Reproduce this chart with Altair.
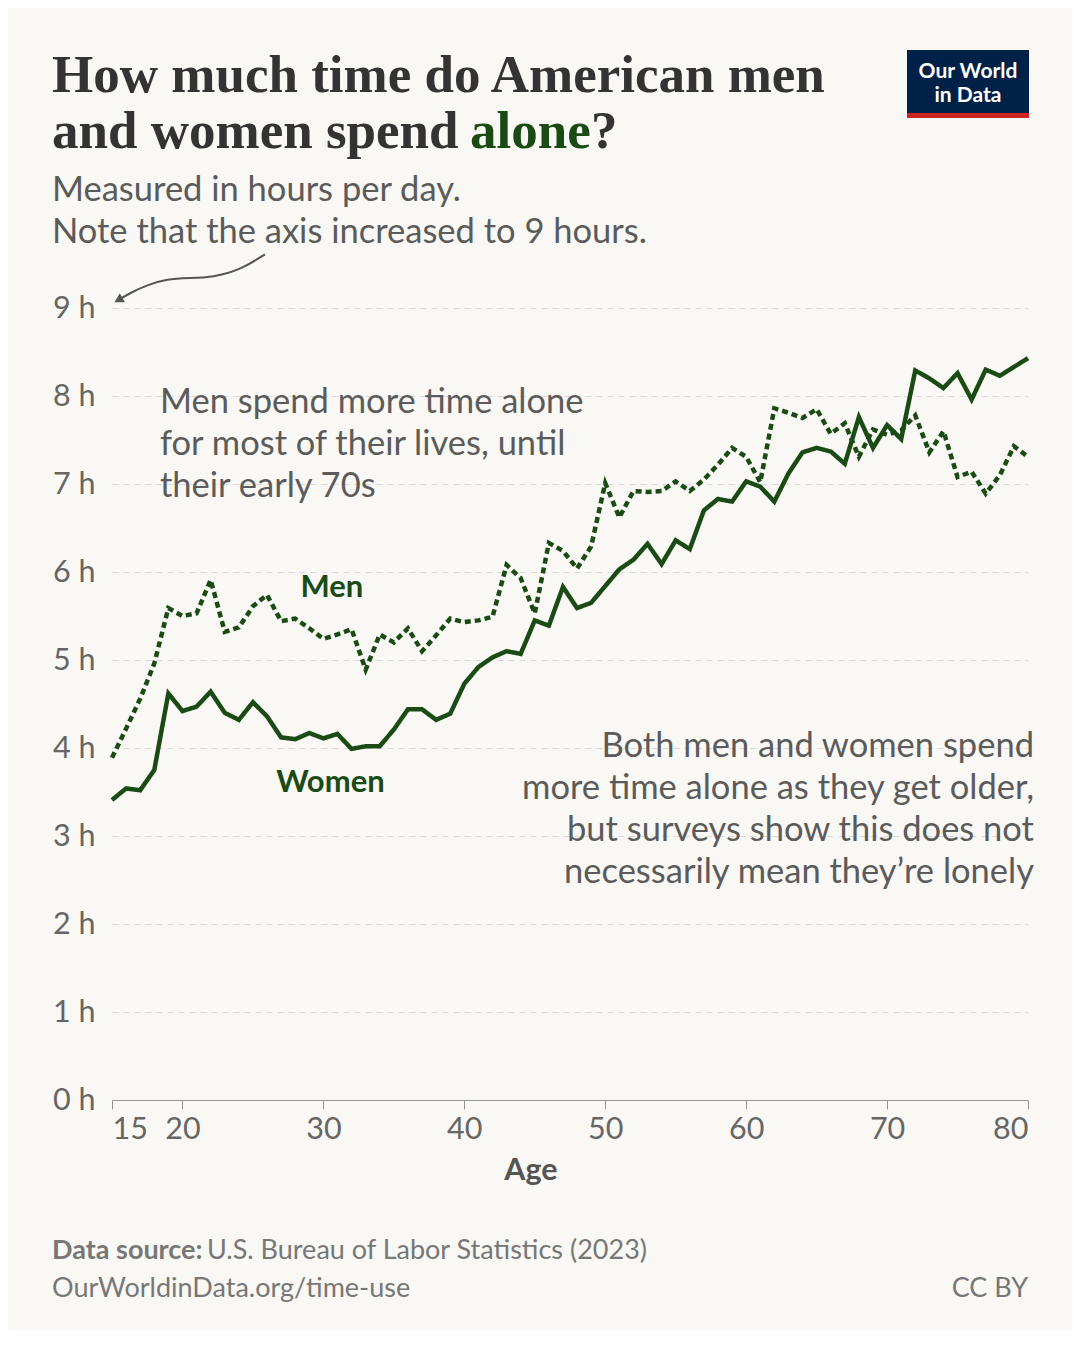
import altair as alt
import pandas as pd

# ---------------- data ----------------
ages = list(range(15, 81))
women = [3.41, 3.54, 3.52, 3.75, 4.62, 4.42, 4.47, 4.64, 4.40, 4.32,
         4.52, 4.36, 4.12, 4.10, 4.17, 4.11, 4.16, 3.99, 4.02, 4.02,
         4.21, 4.44, 4.44, 4.32, 4.39, 4.73, 4.92, 5.03, 5.10, 5.07,
         5.45, 5.39, 5.83, 5.59, 5.65, 5.84, 6.03, 6.14, 6.32, 6.09,
         6.36, 6.26, 6.70, 6.83, 6.80, 7.03, 6.97, 6.80, 7.12, 7.36,
         7.41, 7.37, 7.23, 7.76, 7.41, 7.67, 7.51, 8.29, 8.20, 8.09,
         8.26, 7.96, 8.30, 8.23, 8.33, 8.43]
men = [3.89, 4.22, 4.56, 4.96, 5.59, 5.50, 5.53, 5.91, 5.32, 5.37,
       5.61, 5.74, 5.44, 5.47, 5.36, 5.24, 5.29, 5.35, 4.89, 5.29,
       5.20, 5.36, 5.10, 5.28, 5.47, 5.43, 5.45, 5.49, 6.08, 5.93,
       5.53, 6.33, 6.24, 6.04, 6.29, 7.01, 6.62, 6.92, 6.91, 6.92,
       7.03, 6.92, 7.05, 7.22, 7.41, 7.31, 7.02, 7.86, 7.81, 7.75,
       7.85, 7.57, 7.69, 7.31, 7.62, 7.56, 7.61, 7.78, 7.36, 7.60,
       7.08, 7.14, 6.89, 7.10, 7.43, 7.31]
series = ["Men", "Women"]
x_ticks = [15, 20, 30, 40, 50, 60, 70, 80]
y_ticks = [0, 1, 2, 3, 4, 5, 6, 7, 8, 9]

label_ages = [30.6, 30.5]
label_hours = [5.82, 3.6]

# annotation arrow (age, hours) above the plot
arrow_age = [25.86, 24.08, 22.17, 20.54, 18.90, 17.48, 16.28, 15.55]
arrow_hours = [9.61, 9.43, 9.35, 9.34, 9.33, 9.26, 9.17, 9.10]

title_1 = "How much time do American men"
title_2a = "and women spend"
title_2b = "alone"
title_2c = "?"
subtitle = ["Measured in hours per day.", "Note that the axis increased to 9 hours."]
note_left = ["Men spend more time alone", "for most of their lives, until", "their early 70s"]
note_right = ["Both men and women spend", "more time alone as they get older,",
              "but surveys show this does not", "necessarily mean they\u2019re lonely"]

GREEN = "#1b4b14"
TEXT = "#5b5b5b"
BG = "#f9f8f4"

df = pd.DataFrame({
    "age": ages * 2,
    "hours": men + women,
    "sex": ["Men"] * len(men) + ["Women"] * len(women),
})
labels_df = pd.DataFrame({"age": label_ages, "hours": label_hours, "label": series})
arrow_df = pd.DataFrame({"age": arrow_age, "hours": arrow_hours, "o": list(range(len(arrow_age)))})
one = pd.DataFrame({"k": [0]})

x_enc = alt.X("age:Q", scale=alt.Scale(domain=[15, 80], nice=False, zero=False),
              axis=alt.Axis(values=x_ticks, title=None, labelFlush=True, grid=False,
                            tickSize=9, tickColor="#999", domainColor="#999",
                            labelFontSize=30.5, labelColor="#666", labelPadding=5,
                            labelFont="Lato"))
y_enc = alt.Y("hours:Q", scale=alt.Scale(domain=[0, 9], nice=False),
              axis=alt.Axis(values=y_ticks, labelExpr="datum.value + ' h'", title=None,
                            grid=True, gridDash=[6, 5], gridColor="#d9d9d9", domain=False,
                            ticks=False, labelFontSize=30.5, labelColor="#666",
                            labelPadding=17, labelFont="Lato"))

lines = alt.Chart(df).mark_line(strokeWidth=4.5, color=GREEN).encode(
    x=x_enc, y=y_enc, detail="sex:N",
    strokeDash=alt.StrokeDash("sex:N", scale=alt.Scale(domain=series, range=[[6, 4], [1, 0]]),
                              legend=None),
)

line_labels = alt.Chart(labels_df).mark_text(fontSize=31, fontWeight="bold", color=GREEN,
                                             font="Lato").encode(x=x_enc, y=y_enc, text="label:N")

arrow_line = alt.Chart(arrow_df).mark_line(strokeWidth=2, color="#555", interpolate="basis").encode(
    x=x_enc, y=y_enc, order="o:Q")
arrow_head = alt.Chart(arrow_df.tail(1)).mark_point(shape="triangle", filled=True, size=110,
                                                    color="#555", opacity=1, angle=240).encode(
    x=x_enc, y=y_enc)


def txt(text, x, y, size, color=TEXT, weight="normal", align="left", font="Lato", lh=None):
    kw = dict(text=text, fontSize=size, color=color, fontWeight=weight, align=align,
              baseline="alphabetic", font=font)
    if lh is not None:
        kw["lineHeight"] = lh
    return alt.Chart(one).mark_text(**kw).encode(x=alt.value(x), y=alt.value(y))


SERIF = "Liberation Serif"
t1 = txt(title_1, -60, -216, 53, color="#333", weight="bold", font=SERIF)
t2a = txt(title_2a, -60, -160, 53, color="#333", weight="bold", font=SERIF)
t2b = txt(title_2b, 358, -160, 53, color=GREEN, weight="bold", font=SERIF)
t2c = txt(title_2c, 479, -160, 53, color="#333", weight="bold", font=SERIF)
sub = txt(subtitle, -60, -107, 34.5, lh=42)
n_left = txt(note_left, 48, 105, 34.5, lh=42)
n_right = txt(note_right, 922, 449, 34.5, align="right", lh=42)
age_title = txt("Age", 419, 872, 30.5, color="#555", weight="bold", align="center")

foot1a = txt("Data source:", -60, 951, 27, color="#777", weight="bold")
foot1b = txt("U.S. Bureau of Labor Statistics (2023)", 95, 951, 27, color="#777")
foot2 = txt("OurWorldinData.org/time-use", -60, 989, 27, color="#777")
foot3 = txt("CC BY", 916, 989, 27, color="#777", align="right")

logo_box = alt.Chart(one).mark_rect(color="#002147").encode(
    x=alt.value(795), x2=alt.value(917), y=alt.value(-258), y2=alt.value(-195))
logo_red = alt.Chart(one).mark_rect(color="#ce261e").encode(
    x=alt.value(795), x2=alt.value(917), y=alt.value(-195), y2=alt.value(-190))
logo_t = txt(["Our World", "in Data"], 856, -230, 21, color="white", weight="bold",
             align="center", lh=24)

chart = alt.layer(
    lines, line_labels, arrow_line, arrow_head,
    t1, t2a, t2b, t2c, sub, n_left, n_right, age_title,
    foot1a, foot1b, foot2, foot3,
    logo_box, logo_red, logo_t,
).properties(
    width=916, height=792, background=BG,
    autosize=alt.AutoSizeParams(type="none"),
    padding={"left": 104, "top": 300, "right": 44, "bottom": 230},
).configure_view(stroke=None)

chart.save("out.html", embed_options={"renderer": "svg", "actions": False})
